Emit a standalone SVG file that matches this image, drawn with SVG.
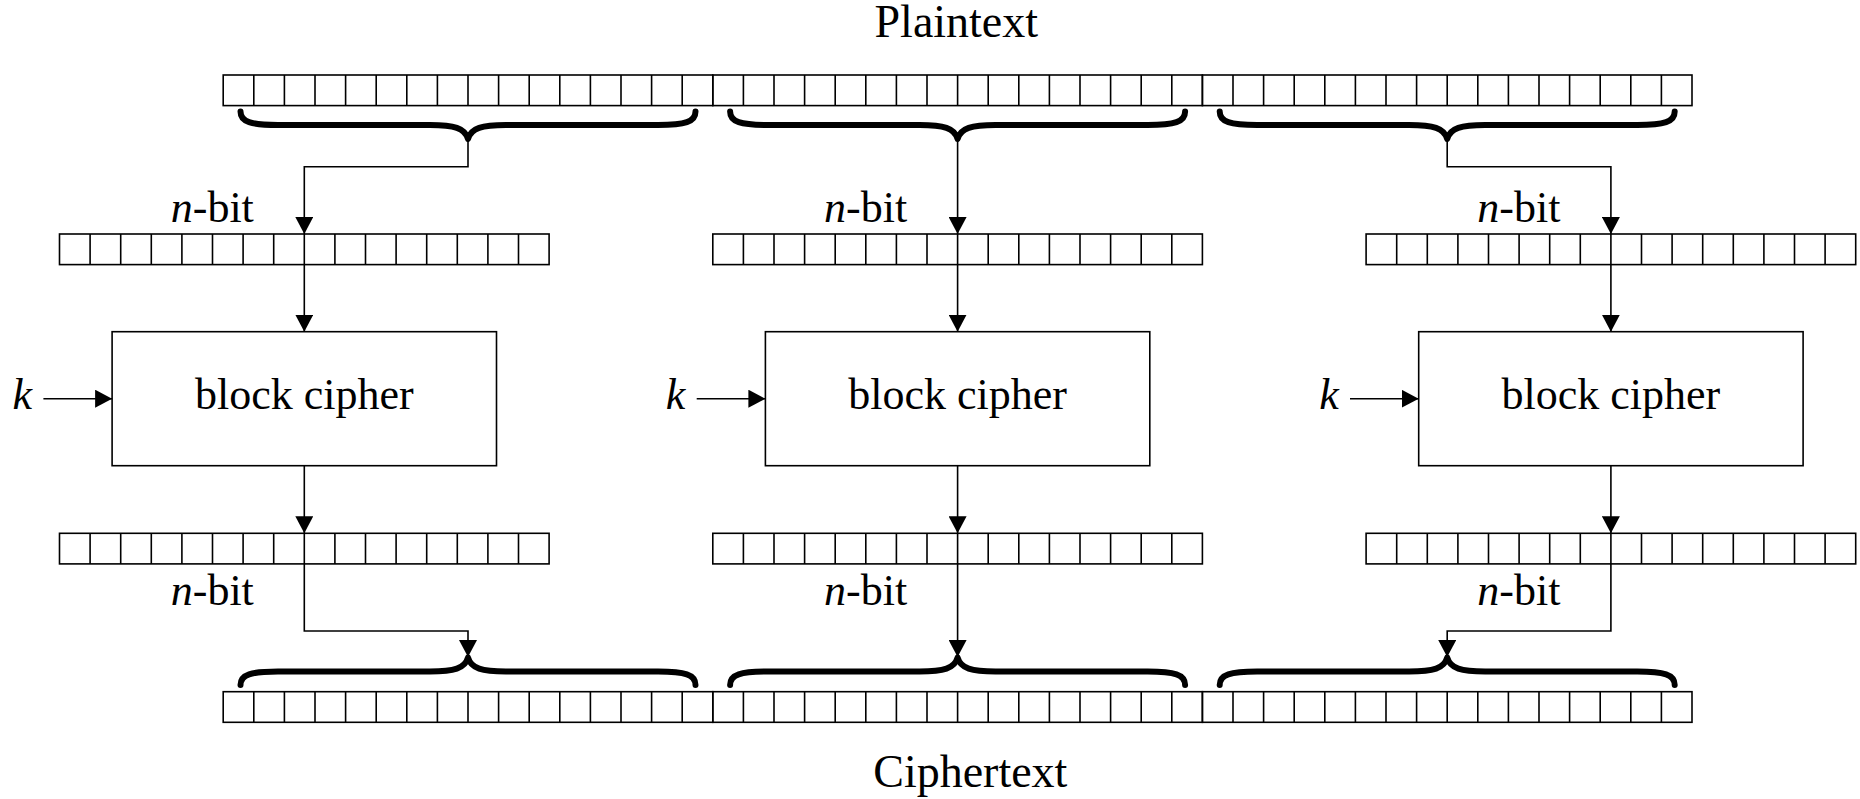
<svg xmlns="http://www.w3.org/2000/svg" xmlns:xlink="http://www.w3.org/1999/xlink" width="1860" height="799" viewBox="0 0 1860 799">
<style>
.cell{fill:none;stroke:#000;stroke-width:1.6}
.box{fill:#fff;stroke:#000;stroke-width:1.6}
.brace{fill:none;stroke:#000;stroke-width:6;stroke-linecap:round;stroke-linejoin:round}
.conn{fill:none;stroke:#000;stroke-width:1.6}
.arr{marker-end:url(#ah)}
text{font-family:"Liberation Serif","Times New Roman",serif;font-size:44px;fill:#000}
.title{font-size:46px}
.mid{text-anchor:middle}
.it{font-style:italic}
</style>
<defs>
<marker id="ah" markerUnits="userSpaceOnUse" markerWidth="18" markerHeight="18" refX="17" refY="9" orient="auto">
<path d="M0,0 L17,9 L0,18 Z" fill="#000"/>
</marker>
<g id="blk">
<rect class="cell" x="0" y="0" width="489.6" height="30.6"/>
<path class="cell" d="M30.6,0v30.6M61.2,0v30.6M91.8,0v30.6M122.4,0v30.6M153,0v30.6M183.6,0v30.6M214.2,0v30.6M244.8,0v30.6M275.4,0v30.6M306,0v30.6M336.6,0v30.6M367.2,0v30.6M397.8,0v30.6M428.4,0v30.6M459,0v30.6"/>
</g>
<path id="brace" d="M-227.5,-27.5 C-227.5,-17 -217,-14 -190,-14 L-38,-14 C-14,-14 -3,-11 0,0 C3,-11 14,-14 38,-14 L190,-14 C217,-14 227.5,-17 227.5,-27.5"/>
</defs>

<g id="plaintext">
<use href="#blk" x="223.2" y="75"/>
<use href="#blk" x="712.8" y="75"/>
<use href="#blk" x="1202.4" y="75"/>
<text class="mid title" x="956.3" y="37.3">Plaintext</text>
</g>
<g id="brace-p1"><use href="#brace" class="brace" transform="translate(468,139)"/></g>
<g id="brace-p2"><use href="#brace" class="brace" transform="translate(957.6,139)"/></g>
<g id="brace-p3"><use href="#brace" class="brace" transform="translate(1447.2,139)"/></g>

<g id="in1"><use href="#blk" x="59.5" y="234"/><text class="mid" x="212.3" y="222"><tspan class="it">n</tspan>-bit</text></g>
<g id="in2"><use href="#blk" x="712.8" y="234"/><text class="mid" x="865.6" y="222"><tspan class="it">n</tspan>-bit</text></g>
<g id="in3"><use href="#blk" x="1366.1" y="234"/><text class="mid" x="1518.9" y="222"><tspan class="it">n</tspan>-bit</text></g>

<g id="cipher1"><rect class="box" x="112.1" y="331.7" width="384.4" height="134"/><text class="mid" x="304.3" y="409">block cipher</text></g>
<g id="cipher2"><rect class="box" x="765.4" y="331.7" width="384.4" height="134"/><text class="mid" x="957.6" y="409">block cipher</text></g>
<g id="cipher3"><rect class="box" x="1418.7" y="331.7" width="384.4" height="134"/><text class="mid" x="1610.9" y="409">block cipher</text></g>

<g id="key1"><text class="mid it" x="22.3" y="409">k</text></g>
<g id="key2"><text class="mid it" x="675.6" y="409">k</text></g>
<g id="key3"><text class="mid it" x="1328.9" y="409">k</text></g>

<g id="out1"><use href="#blk" x="59.5" y="533.3"/><text class="mid" x="212.3" y="605"><tspan class="it">n</tspan>-bit</text></g>
<g id="out2"><use href="#blk" x="712.8" y="533.3"/><text class="mid" x="865.6" y="605"><tspan class="it">n</tspan>-bit</text></g>
<g id="out3"><use href="#blk" x="1366.1" y="533.3"/><text class="mid" x="1518.9" y="605"><tspan class="it">n</tspan>-bit</text></g>

<g id="brace-c1"><use href="#brace" class="brace" transform="translate(468,657.5) scale(1,-1)"/></g>
<g id="brace-c2"><use href="#brace" class="brace" transform="translate(957.6,657.5) scale(1,-1)"/></g>
<g id="brace-c3"><use href="#brace" class="brace" transform="translate(1447.2,657.5) scale(1,-1)"/></g>

<g id="ciphertext">
<use href="#blk" x="223.2" y="691.7"/>
<use href="#blk" x="712.8" y="691.7"/>
<use href="#blk" x="1202.4" y="691.7"/>
<text class="mid title" x="970.3" y="787.3">Ciphertext</text>
</g>

<g id="connectors">
<path class="conn arr" d="M468,139 V166.7 H304.3 V234"/>
<path class="conn arr" d="M957.6,139 V234"/>
<path class="conn arr" d="M1447.2,139 V166.7 H1610.9 V234"/>
<path class="conn arr" d="M304.3,264.6 V331.7"/>
<path class="conn arr" d="M957.6,264.6 V331.7"/>
<path class="conn arr" d="M1610.9,264.6 V331.7"/>
<path class="conn arr" d="M43.4,398.7 H112.1"/>
<path class="conn arr" d="M696.7,398.7 H765.4"/>
<path class="conn arr" d="M1350,398.7 H1418.7"/>
<path class="conn arr" d="M304.3,465.7 V533.3"/>
<path class="conn arr" d="M957.6,465.7 V533.3"/>
<path class="conn arr" d="M1610.9,465.7 V533.3"/>
<path class="conn arr" d="M304.3,563.9 V631 H468 V657"/>
<path class="conn arr" d="M957.6,563.9 V657"/>
<path class="conn arr" d="M1610.9,563.9 V631 H1447.2 V657"/>
</g>
</svg>
